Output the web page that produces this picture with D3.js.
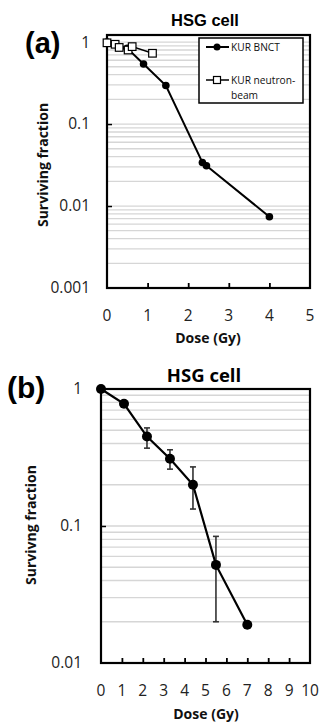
<!DOCTYPE html>
<html><head><meta charset="utf-8">
<script src="https://cdn.jsdelivr.net/npm/d3@7"></script>
<style>body{margin:0;background:#fff}svg{display:block}</style>
</head><body>
<script>
// Panel (a) data
const aBnctDose = [0, 0.5, 0.9, 1.45, 2.35, 2.45, 4.0];
const aBnctSF   = [1, 0.84, 0.54, 0.295, 0.034, 0.031, 0.0074];
const aBeamDose = [0, 0.2, 0.3, 0.52, 0.62, 1.12];
const aBeamSF   = [0.98, 0.94, 0.86, 0.80, 0.88, 0.73];
const aXTicks = [0, 1, 2, 3, 4, 5];
const aYTicks = [1, 0.1, 0.01, 0.001];
const aYTickLabels = ["1", "0.1", "0.01", "0.001"];
const aSeriesNames = ["KUR BNCT", "KUR neutron-beam"];
// Panel (b) data
const bDose = [0, 1.1, 2.2, 3.3, 4.4, 5.5, 7.0];
const bSF   = [1, 0.78, 0.45, 0.31, 0.20, 0.052, 0.019];
const bErrLo = [null, null, 0.37, 0.26, 0.133, 0.02, null];
const bErrHi = [null, null, 0.52, 0.36, 0.27, 0.084, null];
const bXTicks = [0,1,2,3,4,5,6,7,8,9,10];
const bYTicks = [1, 0.1, 0.01];
const bYTickLabels = ["1", "0.1", "0.01"];

const svg = d3.select("body").append("svg").attr("width",320).attr("height",724);
const tickFont = "'Open Sans', sans-serif";

function gridValues(lo, hi){
  const v=[]; for(let d=lo; d<hi*1.0001; d*=10){ for(let m=1;m<=9;m++){ const x=d*m; if(x<=hi*1.0001 && x>=lo) v.push(x);} }
  return v;
}

function panel(o){
  const g = svg.append("g");
  const x = d3.scaleLinear().domain(o.xd).range(o.xr);
  const y = d3.scaleLog().domain(o.yd).range(o.yr);
  g.selectAll(".gl").data(o.grid).enter().append("line")
    .attr("x1",o.xr[0]).attr("x2",o.xr[1])
    .attr("y1",d=>y(d)).attr("y2",d=>y(d))
    .attr("stroke","#d6d6d6").attr("stroke-width",1.3);
  const xa = d3.axisTop(x).tickValues(o.xticks.slice(1,-1)).tickSize(5).tickFormat("");
  g.append("g").attr("transform",`translate(0,${o.yr[0]})`).call(xa)
    .call(s=>{s.select(".domain").remove(); s.selectAll("line").attr("stroke","#000").attr("stroke-width",1.8);});
  const ya = d3.axisRight(y).tickValues(o.yticks.slice(1,-1)).tickSize(5).tickFormat("");
  g.append("g").attr("transform",`translate(${o.xr[0]},0)`).call(ya)
    .call(s=>{s.select(".domain").remove(); s.selectAll("line").attr("stroke","#000").attr("stroke-width",1.5);});
  g.append("rect").attr("x",o.xr[0]).attr("y",o.yr[1]).attr("width",o.xr[1]-o.xr[0]).attr("height",o.yr[0]-o.yr[1])
    .attr("fill","none").attr("stroke","#000").attr("stroke-width",2.2);
  g.selectAll(".xl").data(o.xticks).enter().append("text")
    .attr("x",d=>x(d)).attr("y",o.xlabY).attr("text-anchor","middle")
    .attr("font-family",tickFont).attr("font-size",o.tickSize).attr("fill","#222").text(d=>d);
  g.selectAll(".yl").data(o.yticks).enter().append("text")
    .attr("x",o.ylabX).attr("y",d=>y(d)).attr("dy","0.35em").attr("text-anchor","end")
    .attr("font-family",tickFont).attr("font-size",o.tickSize).attr("fill","#222").text((d,i)=>o.ytickLabels[i]);
  g.append("text").attr("x",o.xtitle[0]).attr("y",o.xtitle[1]).attr("text-anchor","middle")
    .attr("font-family",tickFont).attr("font-weight","bold").attr("font-size",o.titleSize).attr("fill","#111").text("Dose (Gy)");
  g.append("text").attr("transform",`translate(${o.ytitle[0]},${o.ytitle[1]}) rotate(-90)`).attr("text-anchor","middle")
    .attr("dy","0.35em").attr("font-family",tickFont).attr("font-weight","bold").attr("font-size",o.titleSize).attr("fill","#111").text(o.ytitleText);
  return {g,x,y};
}

// ---------- Panel (a)
const A = panel({xd:[0,5], xr:[107,310], yd:[0.001,1.22], yr:[288,35],
  grid: gridValues(0.001,1), xticks:aXTicks, yticks:aYTicks, ytickLabels:aYTickLabels,
  xlabY:321, ylabX:90, tickSize:15.5, titleSize:14, xtitle:[208,343], ytitle:[43,165], ytitleText:"Surviving fraction"});
const lineA = d3.line().x(d=>A.x(d[0])).y(d=>A.y(d[1]));
const bnct = aBnctDose.map((d,i)=>[d,aBnctSF[i]]);
const beam = aBeamDose.map((d,i)=>[d,aBeamSF[i]]);
A.g.append("path").attr("d",lineA(bnct)).attr("fill","none").attr("stroke","#000").attr("stroke-width",2);
A.g.selectAll(".pa").data(bnct).enter().append("circle").attr("cx",d=>A.x(d[0])).attr("cy",d=>A.y(d[1])).attr("r",3.8).attr("fill","#000");
A.g.append("path").attr("d",lineA(beam)).attr("fill","none").attr("stroke","#000").attr("stroke-width",1.5);
A.g.selectAll(".sa").data(beam).enter().append("rect").attr("x",d=>A.x(d[0])-3.8).attr("y",d=>A.y(d[1])-3.8)
  .attr("width",7.6).attr("height",7.6).attr("fill","#fff").attr("stroke","#000").attr("stroke-width",1.2);
const lg = A.g.append("g");
lg.append("rect").attr("x",199).attr("y",38).attr("width",104).attr("height",65).attr("fill","#fff").attr("stroke","#000").attr("stroke-width",1.5);
lg.append("line").attr("x1",206).attr("x2",229).attr("y1",47).attr("y2",47).attr("stroke","#000").attr("stroke-width",2);
lg.append("circle").attr("cx",217).attr("cy",47).attr("r",3.5).attr("fill","#000");
lg.append("text").attr("x",231).attr("y",51).attr("font-family",tickFont).attr("font-size",10.2).attr("fill","#111").text(aSeriesNames[0]);
lg.append("line").attr("x1",206).attr("x2",229).attr("y1",80).attr("y2",80).attr("stroke","#000").attr("stroke-width",1.5);
lg.append("rect").attr("x",213.5).attr("y",76.5).attr("width",7).attr("height",7).attr("fill","#fff").attr("stroke","#000").attr("stroke-width",1.2);
lg.append("text").attr("x",231).attr("y",84).attr("font-family",tickFont).attr("font-size",10.2).attr("fill","#111").text("KUR neutron-");
lg.append("text").attr("x",231).attr("y",99).attr("font-family",tickFont).attr("font-size",10.2).attr("fill","#111").text("beam");
svg.append("text").attr("x",205).attr("y",26).attr("text-anchor","middle").attr("font-family","'Liberation Sans', Arial, sans-serif")
  .attr("font-weight","bold").attr("font-size",16.5).text("HSG cell");
svg.append("text").attr("x",25).attr("y",53).attr("font-family","'Liberation Sans', Arial, sans-serif")
  .attr("font-weight","bold").attr("font-size",29).text("(a)");

// ---------- Panel (b)
const B = panel({xd:[0,10], xr:[101,310], yd:[0.01,1], yr:[663,389],
  grid: gridValues(0.01,1), xticks:bXTicks, yticks:bYTicks, ytickLabels:bYTickLabels,
  xlabY:696, ylabX:82, tickSize:15.5, titleSize:14, xtitle:[206,719], ytitle:[31,525], ytitleText:"Survivng fraction"});
const bPts = bDose.map((d,i)=>({d, s:bSF[i], lo:bErrLo[i], hi:bErrHi[i]}));
const eb = bPts.filter(p=>p.lo!==null);
B.g.selectAll(".eb").data(eb).enter().append("line").attr("x1",p=>B.x(p.d)).attr("x2",p=>B.x(p.d))
  .attr("y1",p=>B.y(p.lo)).attr("y2",p=>B.y(p.hi)).attr("stroke","#333").attr("stroke-width",1.6);
["lo","hi"].forEach(k=>{
  B.g.selectAll(".cap"+k).data(eb).enter().append("line").attr("x1",p=>B.x(p.d)-3).attr("x2",p=>B.x(p.d)+3)
    .attr("y1",p=>B.y(p[k])).attr("y2",p=>B.y(p[k])).attr("stroke","#333").attr("stroke-width",1.6);
});
B.g.append("path").attr("d",d3.line().x(p=>B.x(p.d)).y(p=>B.y(p.s))(bPts)).attr("fill","none").attr("stroke","#000").attr("stroke-width",2.2);
B.g.selectAll(".pb").data(bPts).enter().append("circle").attr("cx",p=>B.x(p.d)).attr("cy",p=>B.y(p.s)).attr("r",5).attr("fill","#000");
svg.append("text").attr("x",204).attr("y",382).attr("text-anchor","middle").attr("font-family",tickFont)
  .attr("font-weight","bold").attr("font-size",18.5).text("HSG cell");
svg.append("text").attr("x",7).attr("y",398).attr("font-family","'Liberation Sans', Arial, sans-serif")
  .attr("font-weight","bold").attr("font-size",30).text("(b)");
</script>
</body></html>
